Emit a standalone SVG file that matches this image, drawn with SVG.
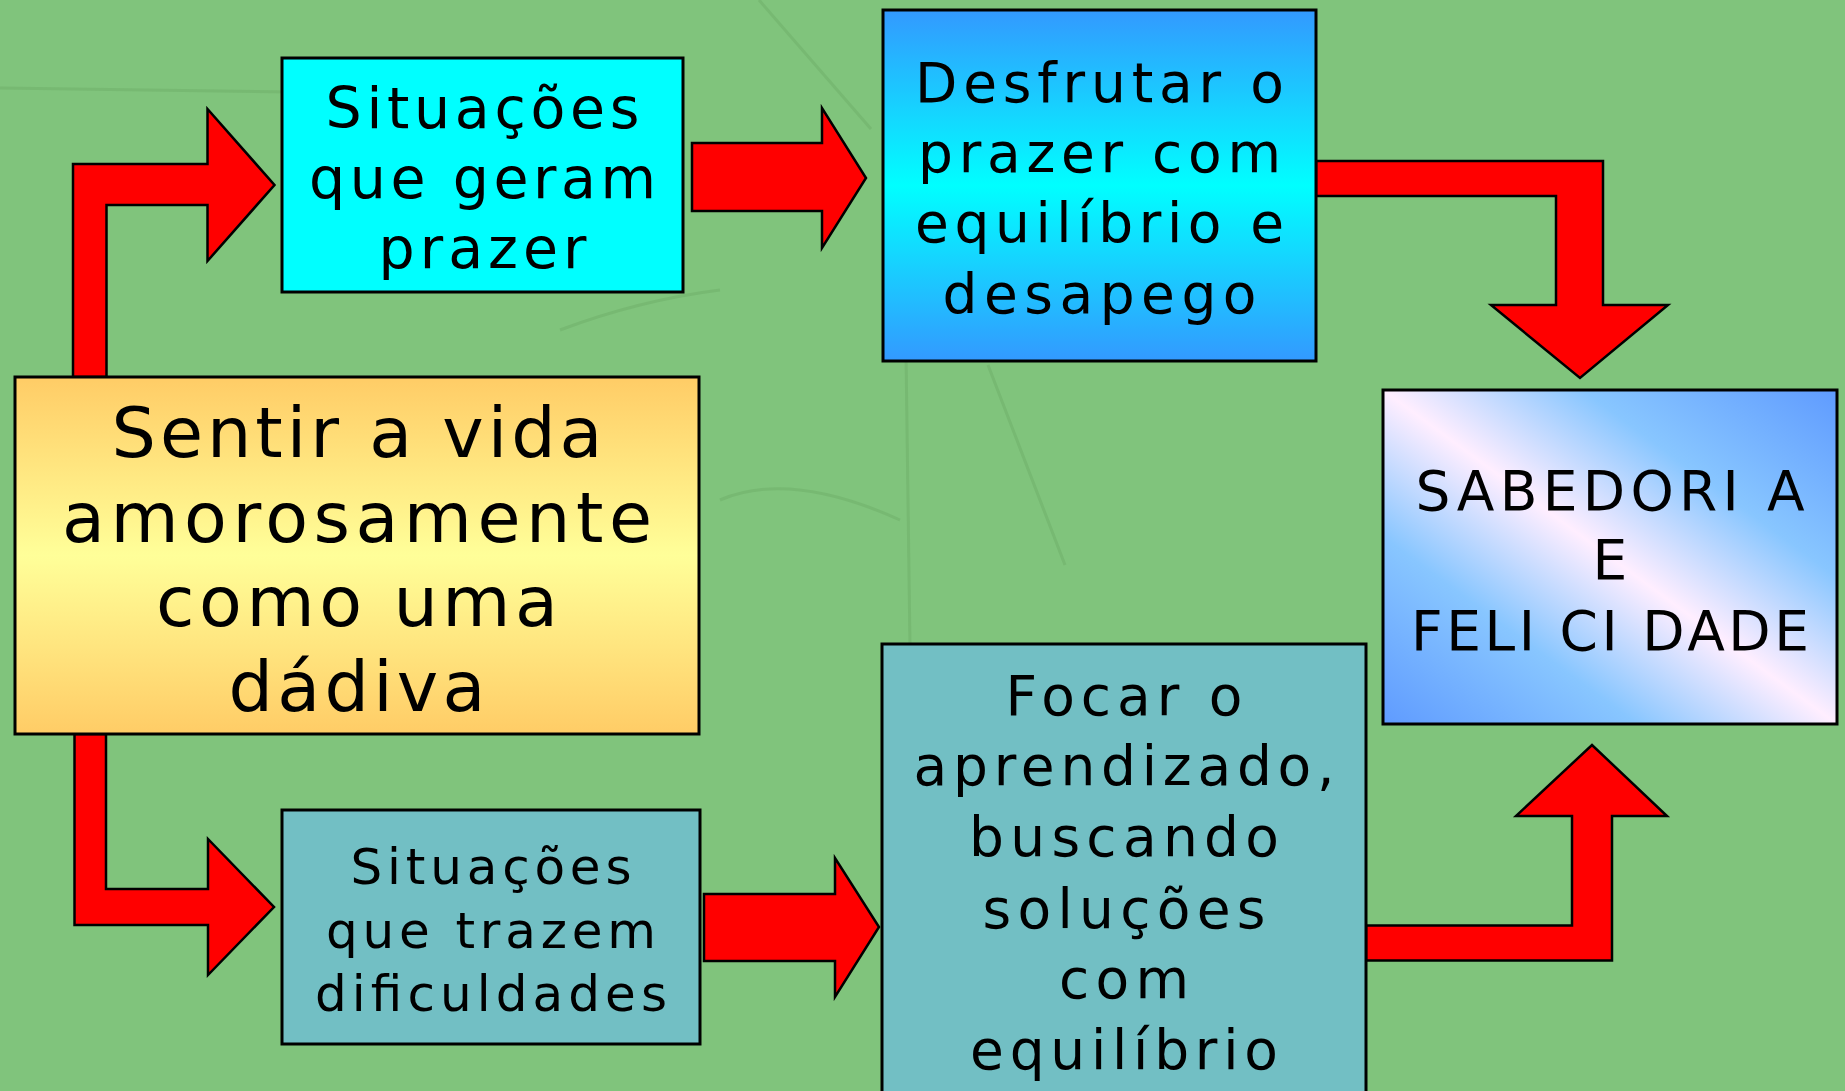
<svg xmlns="http://www.w3.org/2000/svg" width="1845" height="1091" viewBox="0 0 1845 1091">
  <defs>
    <linearGradient id="gMain" x1="0" y1="0" x2="0" y2="1">
      <stop offset="0" stop-color="#FFCC66"/>
      <stop offset="0.5" stop-color="#FFFF99"/>
      <stop offset="1" stop-color="#FFCC66"/>
    </linearGradient>
    <linearGradient id="gDesf" x1="0" y1="0" x2="0" y2="1">
      <stop offset="0" stop-color="#3399FF"/>
      <stop offset="0.5" stop-color="#00FFFF"/>
      <stop offset="1" stop-color="#3399FF"/>
    </linearGradient>
    <linearGradient id="gSab" x1="1" y1="0" x2="0" y2="1">
      <stop offset="0" stop-color="#5F9BFF"/>
      <stop offset="0.28" stop-color="#88C6FF"/>
      <stop offset="0.5" stop-color="#FFEEFF"/>
      <stop offset="0.72" stop-color="#88C6FF"/>
      <stop offset="1" stop-color="#5F9BFF"/>
    </linearGradient>
    <style>
      .box { stroke: #000; stroke-width: 3; }
      .arrow { fill: #FF0000; stroke: #000; stroke-width: 2.5; stroke-linejoin: miter; }
      .t { font-family: "DejaVu Sans", "Liberation Sans", sans-serif; fill: #000; text-anchor: middle; }
      .bg { fill: none; stroke: #3F7A3C; stroke-opacity: 0.14; stroke-width: 3; }
    </style>
  </defs>

  <rect x="0" y="0" width="1845" height="1091" fill="#80C47C"/>
  <g id="background-texture">
    <path class="bg" d="M0 88 L290 92"/>
    <path class="bg" d="M759 0 L871 129"/>
    <path class="bg" d="M988 365 L1065 565"/>
    <path class="bg" d="M906 353 L910 647"/>
    <path class="bg" d="M560 330 Q640 300 720 290"/>
    <path class="bg" d="M720 500 Q790 470 900 520"/>
  </g>

  <g id="connectors">
    <polygon id="arrow-main-prazer" class="arrow" points="73,377 73,164 207.5,164 207.5,109 274.5,185 207.5,261 207.5,205 106.5,205 106.5,377"/>
    <polygon id="arrow-prazer-desfrutar" class="arrow" points="692,143 822,143 822,108 866,178 822,248 822,211 692,211"/>
    <polygon id="arrow-desfrutar-sabedoria" class="arrow" points="1316,161 1603,161 1603,305 1668,305 1580,378 1491,305 1556,305 1556,196 1316,196"/>
    <polygon id="arrow-main-dificuldades" class="arrow" points="74.5,734 74.5,925 208,925 208,975 274,907 208,839 208,889 106,889 106,734"/>
    <polygon id="arrow-dificuldades-focar" class="arrow" points="704,894 835,894 835,858 879,927 835,997 835,961 704,961"/>
    <polygon id="arrow-focar-sabedoria" class="arrow" points="1366,925.5 1572,925.5 1572,816 1516,816 1592,745 1667,816 1612,816 1612,960.5 1366,960.5"/>
  </g>

  <g id="node-prazer">
    <rect class="box" x="282" y="58" width="401" height="234" fill="#00FFFF"/>
    <text class="t" font-size="57" x="482.5" y="128" textLength="314" lengthAdjust="spacing">Situações</text>
    <text class="t" font-size="57" x="482.5" y="198" textLength="347" lengthAdjust="spacing">que geram</text>
    <text class="t" font-size="57" x="482.5" y="268" textLength="208" lengthAdjust="spacing">prazer</text>
  </g>

  <g id="node-desfrutar">
    <rect class="box" x="883" y="10" width="433" height="351" fill="url(#gDesf)"/>
    <text class="t" font-size="55" x="1099.5" y="102" textLength="369" lengthAdjust="spacing">Desfrutar o</text>
    <text class="t" font-size="55" x="1099.5" y="172" textLength="363" lengthAdjust="spacing">prazer com</text>
    <text class="t" font-size="55" x="1099.5" y="242" textLength="369" lengthAdjust="spacing">equilíbrio e</text>
    <text class="t" font-size="55" x="1099.5" y="313" textLength="314" lengthAdjust="spacing">desapego</text>
  </g>

  <g id="node-sentir">
    <rect class="box" x="15" y="377" width="684" height="357" fill="url(#gMain)"/>
    <text class="t" font-size="70" x="357" y="457" textLength="491" lengthAdjust="spacing">Sentir a vida</text>
    <text class="t" font-size="70" x="357" y="542" textLength="590" lengthAdjust="spacing">amorosamente</text>
    <text class="t" font-size="70" x="357" y="626" textLength="402" lengthAdjust="spacing">como uma</text>
    <text class="t" font-size="70" x="357" y="711" textLength="257" lengthAdjust="spacing">dádiva</text>
  </g>

  <g id="node-sabedoria">
    <rect class="box" x="1383" y="390" width="454" height="334" fill="url(#gSab)"/>
    <text class="t" font-size="55" x="1610" y="510" textLength="389" lengthAdjust="spacing">SABEDORI A</text>
    <text class="t" font-size="55" x="1610" y="579">E</text>
    <text class="t" font-size="55" x="1610" y="650" textLength="398" lengthAdjust="spacing">FELI CI DADE</text>
  </g>

  <g id="node-dificuldades">
    <rect class="box" x="282" y="810" width="418" height="234" fill="#72BFC4"/>
    <text class="t" font-size="50" x="491" y="884" textLength="281" lengthAdjust="spacing">Situações</text>
    <text class="t" font-size="50" x="491" y="948" textLength="330" lengthAdjust="spacing">que trazem</text>
    <text class="t" font-size="50" x="491" y="1011" textLength="352" lengthAdjust="spacing">dificuldades</text>
  </g>

  <g id="node-focar">
    <rect class="box" x="882" y="644" width="484" height="470" fill="#72BFC4"/>
    <text class="t" font-size="55" x="1124" y="715" textLength="237" lengthAdjust="spacing">Focar o</text>
    <text class="t" font-size="55" x="1124" y="785" textLength="421" lengthAdjust="spacing">aprendizado,</text>
    <text class="t" font-size="55" x="1124" y="856" textLength="310" lengthAdjust="spacing">buscando</text>
    <text class="t" font-size="55" x="1124" y="928" textLength="283" lengthAdjust="spacing">soluções</text>
    <text class="t" font-size="55" x="1124" y="998" textLength="130" lengthAdjust="spacing">com</text>
    <text class="t" font-size="55" x="1124" y="1069" textLength="308" lengthAdjust="spacing">equilíbrio</text>
  </g>
</svg>
